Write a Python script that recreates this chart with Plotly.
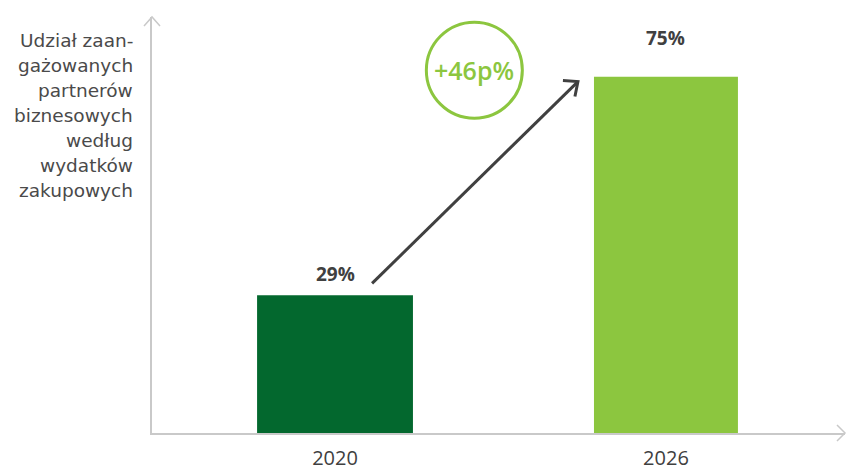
import plotly.graph_objects as go

# Data
years = ["2020", "2026"]
shares = [29, 75]
bar_colors = ["#03682e", "#8cc63f"]
bar_widths = [0.471, 0.435]
change_label = "+46p%"
axis_title_lines = ["Udział zaan-", "gażowanych", "partnerów", "biznesowych",
                    "według", "wydatków", "zakupowych"]

FONT = "Open Sans"
DARK = "#404040"
AXIS = "#c9c9c9"
LIGHT = "#8cc63f"

x_pos = list(range(len(years)))

fig = go.Figure()
fig.add_trace(go.Bar(
    x=x_pos, y=shares, width=bar_widths,
    marker=dict(color=bar_colors, line=dict(width=0)),
    hoverinfo="skip",
))

# value labels above the bars
label_shift = [6, 24]
for xi, v, s in zip(x_pos, shares, label_shift):
    fig.add_annotation(x=xi, y=v, text=f"<b>{v}%</b>", showarrow=False,
                       yanchor="bottom", yshift=s,
                       font=dict(family=FONT, size=19, color=DARK))

# growth arrow between the two bars
tail = (0.112, shares[0] + 2.5)
head = (0.734, shares[1] - 1.0)
fig.add_shape(type="line", xref="x", yref="y",
              x0=tail[0], y0=tail[1], x1=head[0], y1=head[1],
              line=dict(color=DARK, width=3))
fig.add_shape(type="path", xref="x", yref="y",
              xsizemode="pixel", ysizemode="pixel",
              xanchor=head[0], yanchor=head[1],
              path="M -15,1 L 0,0 L -3,-15",
              line=dict(color=DARK, width=3))

# circled change badge
badge = (0.421, 76.4)
fig.add_shape(type="circle", xref="x", yref="y",
              xsizemode="pixel", ysizemode="pixel",
              xanchor=badge[0], yanchor=badge[1],
              x0=-48, x1=48, y0=-48, y1=48,
              line=dict(color=LIGHT, width=3), fillcolor="rgba(0,0,0,0)")
fig.add_annotation(x=badge[0], y=badge[1], text=change_label, showarrow=False,
                   font=dict(family=FONT, size=25, color=LIGHT, weight=600))

# axis arrowheads
fig.add_shape(type="path", xref="paper", yref="paper",
              xsizemode="pixel", ysizemode="pixel", xanchor=0, yanchor=1,
              path="M -8,-9 L 0,0 L 8,-9", line=dict(color=AXIS, width=1.5))
fig.add_shape(type="path", xref="paper", yref="paper",
              xsizemode="pixel", ysizemode="pixel", xanchor=1, yanchor=0,
              path="M -8,8 L 0,0 L -8,-8", line=dict(color=AXIS, width=1.5))

# axis title on the left, one line per annotation
for i, line in enumerate(axis_title_lines):
    fig.add_annotation(x=0, y=1, xref="paper", yref="paper",
                       xanchor="right", yanchor="middle",
                       xshift=-17, yshift=-23 - 25 * i,
                       text=line, showarrow=False,
                       font=dict(family="DejaVu Sans", size=18.5, color="#4a4a4a"))

fig.update_layout(
    width=848, height=472,
    margin=dict(l=152, r=3, t=17, b=39),
    plot_bgcolor="white", paper_bgcolor="white",
    showlegend=False,
    xaxis=dict(range=[-0.553, 1.541], tickmode="array", tickvals=x_pos,
               ticktext=years, showgrid=False, zeroline=False,
               showline=True, linecolor=AXIS, linewidth=2, ticks="",
               ticklabelstandoff=6, automargin=False,
               tickfont=dict(family=FONT, size=20, color=DARK)),
    yaxis=dict(range=[0, 87.6], showgrid=False, zeroline=False,
               showline=True, linecolor=AXIS, linewidth=2, automargin=False,
               showticklabels=False, ticks=""),
)

fig.write_html("out.html")
